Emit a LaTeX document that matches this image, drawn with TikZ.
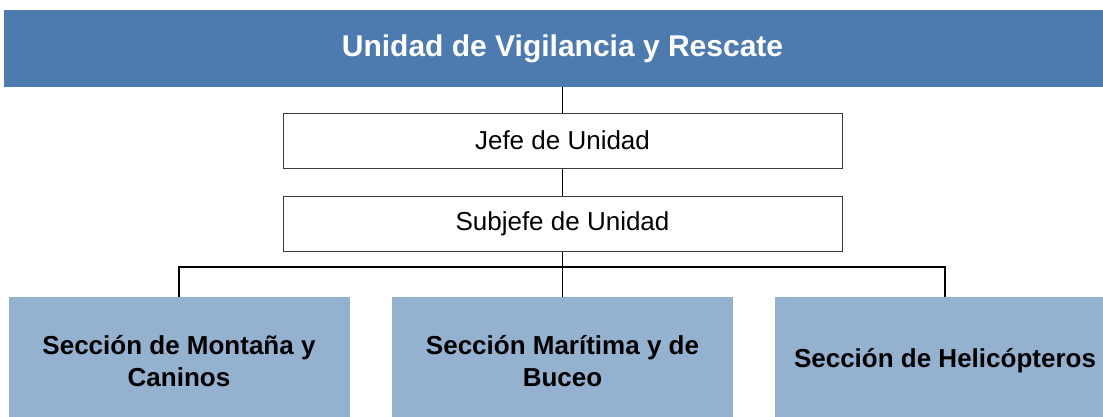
\documentclass[tikz,border=0pt]{standalone}
\usepackage{fontspec}
\setmainfont{Liberation Sans}
\definecolor{bannerblue}{RGB}{78,123,175}
\definecolor{secblue}{RGB}{149,177,208}
\definecolor{boxline}{RGB}{60,60,60}
\begin{document}
\begin{tikzpicture}[x=1pt,y=-1pt,
  banner/.style={fill=bannerblue, draw=none, minimum width=1117pt, minimum height=77pt,
    text=white, font=\fontsize{30}{36}\selectfont\bfseries, inner sep=0pt},
  rolebox/.style={draw=boxline, line width=1pt, fill=white, minimum width=559pt, minimum height=55pt,
    font=\fontsize{26}{32}\selectfont, inner sep=0pt},
  secbox/.style={fill=secblue, draw=none, minimum width=341pt, minimum height=128pt,
    font=\fontsize{26}{32}\selectfont\bfseries, align=center, inner sep=0pt},
  conn/.style={draw=black, line width=1.6pt}]
\useasboundingbox (0,0) rectangle (1103,416);
\clip (0,0) rectangle (1103,416);
\node[banner] (top) at (562.5,48.5) {Unidad de Vigilancia y Rescate};
\node[rolebox] (jefe) at (562.5,140.5) {Jefe de Unidad};
\node[rolebox] (sub) at (562.5,223.5) {Subjefe de Unidad};
\node[secbox] (left) at (179,361) {Sección de Montaña y\\Caninos};
\node[secbox] (mid) at (562.5,361) {Sección Marítima y de\\Buceo};
\node[secbox] (right) at (945,361) {Sección de Helicópteros};
\coordinate (bus) at (562.5,267);
\begin{scope}[on background layer/.try]
\end{scope}
\draw[conn] (top.south) -- (jefe.north);
\draw[conn] (jefe.south) -- (sub.north);
\draw[conn] (sub.south) -- (bus);
\draw[conn] (left.north) |- (bus) -| (right.north);
\draw[conn] (bus) -- (mid.north);
\end{tikzpicture}
\end{document}
